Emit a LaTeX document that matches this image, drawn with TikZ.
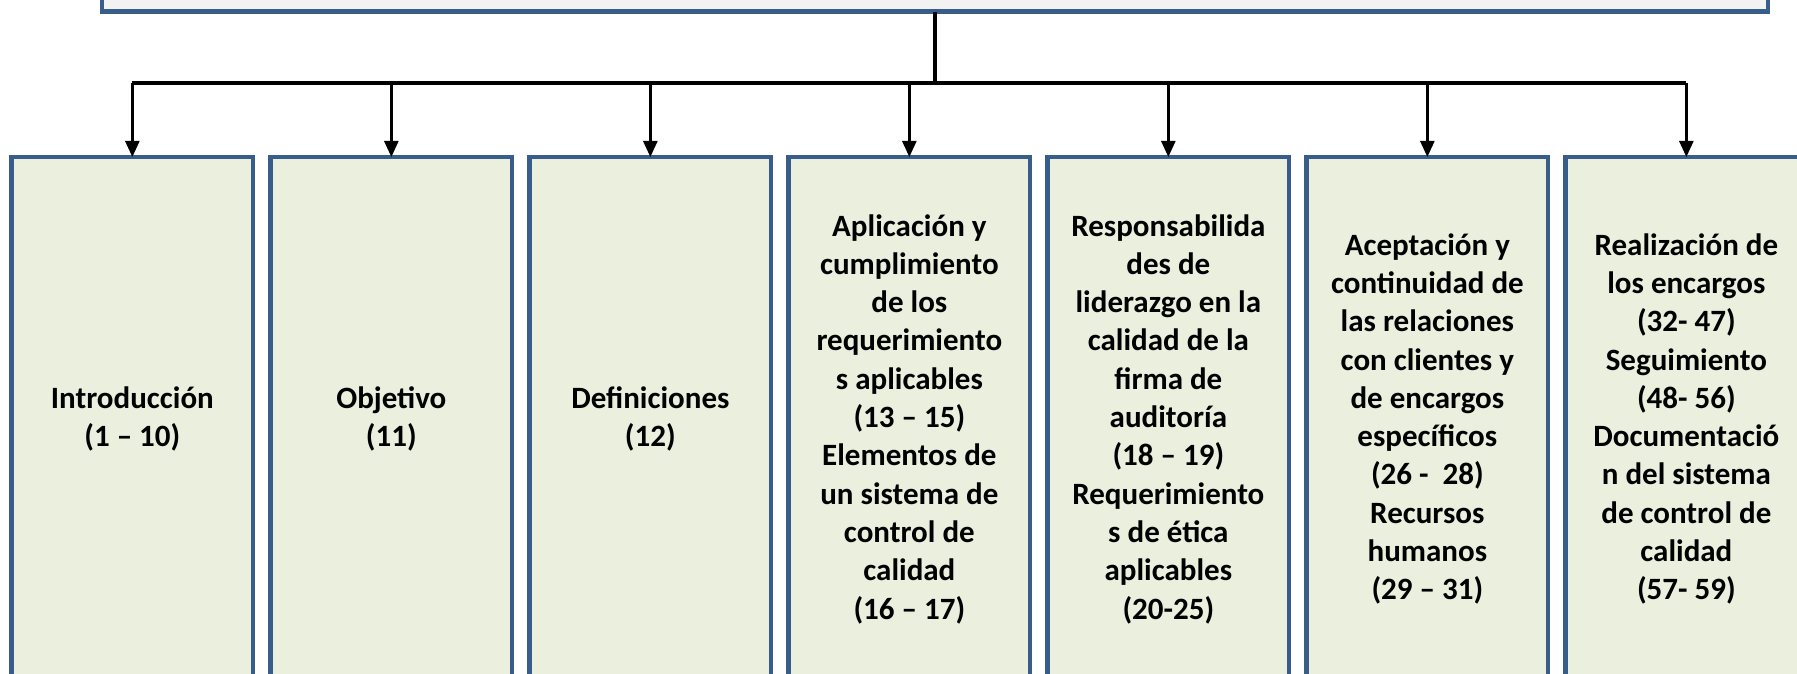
\documentclass[tikz,border=0pt]{standalone}
\usepackage{fontspec}
\setmainfont{Carlito}
\usetikzlibrary{arrows.meta}
\definecolor{boxblue}{RGB}{56,93,138}
\definecolor{boxfill}{RGB}{235,239,222}
\definecolor{topfill}{RGB}{242,242,242}
\tikzset{
  topbox/.style={draw=boxblue, line width=4.5pt, fill=topfill, rectangle, outer sep=0pt,
    minimum width=1666pt, minimum height=100pt, inner sep=0pt},
  itembox/.style={draw=boxblue, line width=4.5pt, fill=boxfill, rectangle, outer sep=0pt,
    minimum width=241.3pt, minimum height=524pt, inner sep=0pt, align=center,
    font=\fontsize{31}{38.3}\selectfont\bfseries},
  link/.style={draw=black, line width=3.5pt},
  drop/.style={draw=black, line width=2.5pt, -{Triangle[width=14pt,length=16pt]}},
}
\begin{document}
\begin{tikzpicture}[x=1pt,y=-1pt]
\fill[white] (0,0) rectangle (1797,674);
\useasboundingbox (0,0) rectangle (1797,674);
\node[topbox] (top) at (935,-38.3) {};
\node[itembox] (b1) at (132.35,419) {Introducción\\(1 – 10)};
\node[itembox] (b2) at (391.35,419) {Objetivo\\(11)};
\node[itembox] (b3) at (650.35,419) {Definiciones\\(12)};
\node[itembox] (b4) at (909.35,419) {Aplicación y\\cumplimiento\\de los\\requerimiento\\s aplicables\\(13 – 15)\\Elementos de\\un sistema de\\control de\\calidad\\(16 – 17)};
\node[itembox] (b5) at (1168.35,419) {Responsabilida\\des de\\liderazgo en la\\calidad de la\\firma de\\auditoría\\(18 – 19)\\Requerimiento\\s de ética\\aplicables\\(20-25)};
\node[itembox] (b6) at (1427.35,419) {Aceptación y\\continuidad de\\las relaciones\\con clientes y\\de encargos\\específicos\\(26 -\ \ 28)\\Recursos\\humanos\\(29 – 31)};
\node[itembox] (b7) at (1686.35,419) {Realización de\\los encargos\\(32- 47)\\Seguimiento\\(48- 56)\\Documentació\\n del sistema\\de control de\\calidad\\(57- 59)};
\coordinate (j) at (935,83);
\draw[link] (top.south) -- (j);
\draw[link] (b1.north |- j) -- (b7.north |- j);
\foreach \i in {1,...,7}{
  \draw[drop] (b\i.north |- j) -- (b\i.north);
}
\end{tikzpicture}
\end{document}
